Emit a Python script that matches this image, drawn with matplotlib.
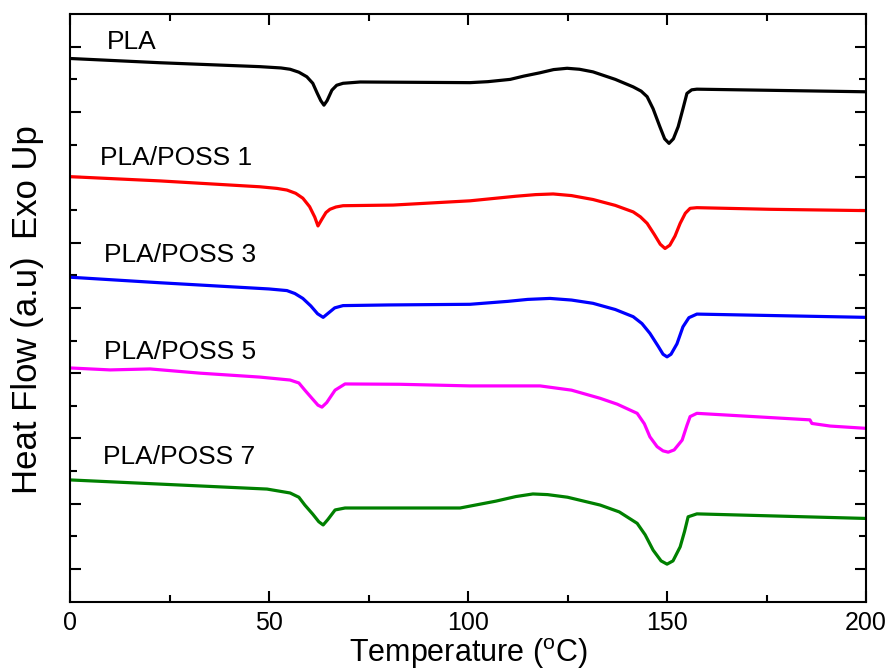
import numpy as np
import matplotlib
matplotlib.use('Agg')
import matplotlib.pyplot as plt
from matplotlib.ticker import MultipleLocator, FixedLocator

plt.rcParams['font.family'] = ['Liberation Sans', 'DejaVu Sans']

# DSC curves (temperature in C, heat flow in a.u.)
t_pla = [0, 22.6, 47.7, 53, 55.3, 57.5, 59.5, 61.0, 62.1, 63.0, 63.8, 64.6, 65.8, 67.0, 68.6, 72.9,
         100.5, 105, 110.6, 114, 118, 121.5, 124.9, 128, 131.4, 137, 141.5, 143.5, 145.0, 146.5,
         148.2, 149.4, 150.5, 151.6, 152.8, 154.0, 155.0, 156.2, 157.5, 173.4, 200]
h_pla = [16.64, 16.51, 16.39, 16.35, 16.31, 16.22, 16.08, 15.88, 15.58, 15.35, 15.21, 15.35, 15.67,
         15.82, 15.88, 15.92, 15.90, 15.93, 16.00, 16.10, 16.20, 16.30, 16.34, 16.31, 16.23, 16.00,
         15.77, 15.64, 15.47, 15.10, 14.55, 14.18, 14.04, 14.18, 14.55, 15.10, 15.57, 15.68, 15.70,
         15.67, 15.62]

t_p1 = [0, 22.6, 47.7, 52, 54.5, 56.7, 58.5, 60.2, 61.5, 62.3, 63.3, 64.3, 65.3, 66.8, 68.6, 81.2,
        100.5, 112, 117, 121.4, 126, 131.4, 137, 141.5, 143.3, 145.0, 146.8, 148.3, 149.5, 150.7,
        152.0, 153.3, 154.6, 155.8, 157.5, 175.9, 200]
h_p1 = [13.02, 12.89, 12.71, 12.66, 12.61, 12.51, 12.36, 12.10, 11.78, 11.51, 11.72, 11.92, 12.02,
        12.09, 12.13, 12.15, 12.28, 12.42, 12.47, 12.49, 12.44, 12.32, 12.14, 11.94, 11.79, 11.59,
        11.25, 10.95, 10.82, 10.92, 11.20, 11.59, 11.90, 12.05, 12.07, 12.02, 11.98]

t_p3 = [0, 22.6, 50, 54.5, 56.5, 58.5, 60.5, 62.2, 63.6, 65.0, 66.5, 68.6, 80, 100.5, 110, 115,
        120.6, 126, 131.4, 137, 141.5, 143.7, 145.7, 147.8, 149.0, 150.0, 151.0, 152.5, 154.0,
        155.5, 157.5, 200]
h_p3 = [9.94, 9.77, 9.58, 9.53, 9.44, 9.29, 9.06, 8.82, 8.71, 8.85, 9.00, 9.07, 9.09, 9.11, 9.20,
        9.26, 9.29, 9.24, 9.14, 8.95, 8.73, 8.52, 8.22, 7.82, 7.58, 7.50, 7.58, 7.90, 8.42, 8.70,
        8.81, 8.71]

t_p5 = [0, 10.1, 20.1, 32.7, 47.7, 55.3, 57.5, 59.0, 61.0, 62.3, 63.3, 64.5, 66.6, 69.1, 82.9,
        100.5, 118.1, 126, 133.2, 137.5, 142.5, 144.3, 145.7, 147.5, 149.0, 150.3, 151.8, 153.8,
        155.0, 155.8, 157.5, 185.9, 186.4, 191.0, 200]
h_p5 = [7.16, 7.10, 7.13, 7.00, 6.88, 6.79, 6.70, 6.48, 6.20, 6.02, 5.96, 6.10, 6.48, 6.67, 6.66,
        6.61, 6.61, 6.48, 6.23, 6.05, 5.77, 5.45, 5.05, 4.75, 4.62, 4.58, 4.65, 4.95, 5.40, 5.67,
        5.77, 5.57, 5.46, 5.38, 5.31]

t_p7 = [0, 49.5, 55.3, 57.5, 59.0, 61.0, 62.5, 63.6, 64.8, 66.6, 69.1, 98.0, 107, 112, 116.3, 120,
        125, 133.2, 138, 142.5, 144.5, 146.5, 148.5, 150.0, 151.5, 153.3, 154.4, 155.3, 157.5, 200]
h_p7 = [3.73, 3.45, 3.33, 3.20, 2.96, 2.68, 2.45, 2.35, 2.52, 2.81, 2.87, 2.87, 3.08, 3.22, 3.30,
        3.28, 3.20, 2.96, 2.75, 2.40, 2.05, 1.58, 1.25, 1.15, 1.25, 1.68, 2.15, 2.60, 2.69, 2.55]

names = ['PLA', 'PLA/POSS 1', 'PLA/POSS 3', 'PLA/POSS 5', 'PLA/POSS 7']
colors = ['black', 'red', 'blue', 'magenta', 'green']
label_pos = [(9.3, 17.14), (7.5, 13.59), (8.6, 10.62), (8.6, 7.65), (8.3, 4.44)]

fig = plt.figure(figsize=(8.93, 6.71), dpi=100)
ax = fig.add_axes([0.0784, 0.1033, 0.8914, 0.8757])

curves = [(t_pla, h_pla), (t_p1, h_p1), (t_p3, h_p3), (t_p5, h_p5), (t_p7, h_p7)]
for (t, h), c in zip(curves, colors):
    ax.plot(t, h, color=c, lw=2.3, solid_joinstyle='round')

for name, (x, y) in zip(names, label_pos):
    ax.text(x, y, name, fontsize=19, va='center', ha='left')

ax.set_xlim(0, 200)
ax.set_ylim(0, 18)
ax.xaxis.set_major_locator(MultipleLocator(50))
ax.xaxis.set_minor_locator(MultipleLocator(25))
ax.yaxis.set_major_locator(FixedLocator(range(1, 18, 2)))
ax.yaxis.set_minor_locator(FixedLocator(range(2, 18, 2)))
ax.tick_params(which='both', direction='in', top=True, right=True, width=1.5)
ax.tick_params(which='major', length=8, labelsize=18, pad=7)
ax.tick_params(which='minor', length=5)
ax.set_yticklabels([])
for s in ax.spines.values():
    s.set_linewidth(1.5)

fig.text(0.524, 0.0, 'Temperature ($^\\mathregular{o}$C)', fontsize=22, ha='center', va='bottom')
fig.text(0.031, 0.441, 'Heat Flow (a.u)', rotation=90, fontsize=25, ha='center', va='center')
fig.text(0.031, 0.728, 'Exo Up', rotation=90, fontsize=25, ha='center', va='center')

fig.savefig('out.png', dpi=100)
